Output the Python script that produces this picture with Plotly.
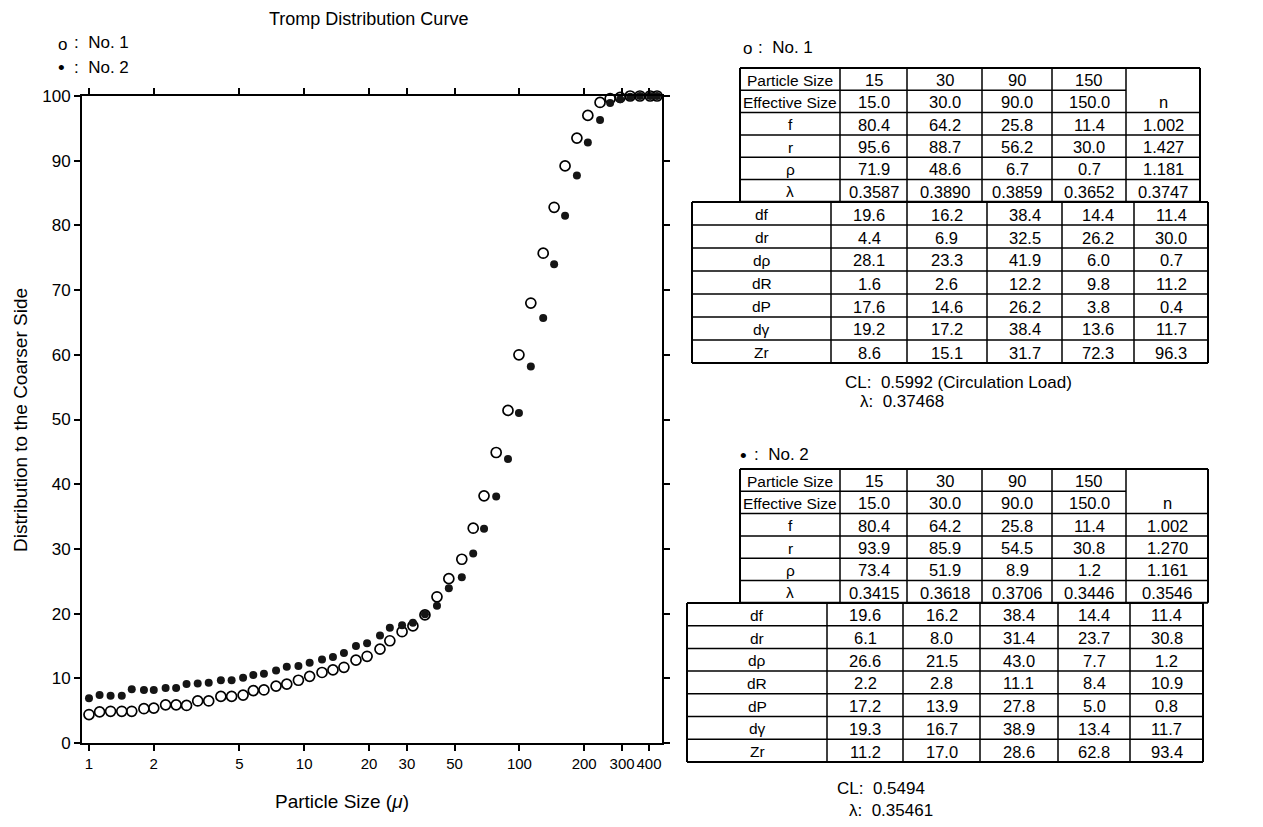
import plotly.graph_objects as go

PAGE_W, PAGE_H = 1263, 827
OFF = 8                      # default page margin around the figure
W, H = PAGE_W - 2 * OFF, PAGE_H - 2 * OFF
FONT = "Liberation Sans, Arial, Helvetica, sans-serif"

# ---------------- data ----------------
particle_size = [1.0, 1.12, 1.26, 1.42, 1.58, 1.8, 2.0, 2.27, 2.54, 2.84, 3.2, 3.6, 4.1, 4.6,
                 5.2, 5.8, 6.5, 7.4, 8.3, 9.4, 10.6, 12.1, 13.6, 15.3, 17.4, 19.6, 22.5, 25.0,
                 28.5, 32.0, 36.4, 41.4, 47.0, 54.0, 61.0, 68.5, 78.0, 88.5, 99.5, 113, 129,
                 145, 163, 185, 208, 237, 264, 294, 327, 363, 405, 436]
no1_dist = [4.4, 4.8, 4.9, 4.9, 4.9, 5.3, 5.4, 5.9, 5.9, 5.8, 6.5, 6.5, 7.2, 7.2, 7.4, 8.1,
            8.2, 8.8, 9.1, 9.7, 10.3, 10.9, 11.3, 11.7, 12.8, 13.4, 14.5, 15.8, 17.2, 18.1,
            19.8, 22.6, 25.4, 28.4, 33.2, 38.2, 44.9, 51.4, 60.0, 68.0, 75.7, 82.8, 89.2,
            93.5, 97.0, 99.0, 99.6, 99.8, 100, 100, 100, 100]
no2_dist = [6.9, 7.4, 7.3, 7.3, 8.3, 8.2, 8.2, 8.5, 8.5, 9.1, 9.2, 9.3, 9.7, 9.7, 10.1, 10.5,
            10.7, 11.2, 11.8, 11.9, 12.4, 12.9, 13.3, 13.9, 15.0, 15.4, 16.6, 17.8, 18.2, 18.6,
            19.9, 21.2, 23.9, 25.6, 29.3, 33.1, 38.1, 43.9, 51.0, 58.2, 65.7, 74.0, 81.5,
            87.7, 92.8, 96.3, 98.9, 99.5, 99.9, 100, 100, 100]

x_tick_vals = [1, 2, 5, 10, 20, 30, 50, 100, 200, 300, 400]
y_tick_vals = [0, 10, 20, 30, 40, 50, 60, 70, 80, 90, 100]

head_row = ["Particle Size", "15", "30", "90", "150", ""]
upper_labels = ["Effective Size", "f", "r", "ρ", "λ"]
lower_labels = ["df", "dr", "dρ", "dR", "dP", "dγ", "Zr"]

t1_upper = [["15.0", "30.0", "90.0", "150.0", "n"],
            ["80.4", "64.2", "25.8", "11.4", "1.002"],
            ["95.6", "88.7", "56.2", "30.0", "1.427"],
            ["71.9", "48.6", "6.7", "0.7", "1.181"],
            ["0.3587", "0.3890", "0.3859", "0.3652", "0.3747"]]
t1_lower = [["19.6", "16.2", "38.4", "14.4", "11.4"],
            ["4.4", "6.9", "32.5", "26.2", "30.0"],
            ["28.1", "23.3", "41.9", "6.0", "0.7"],
            ["1.6", "2.6", "12.2", "9.8", "11.2"],
            ["17.6", "14.6", "26.2", "3.8", "0.4"],
            ["19.2", "17.2", "38.4", "13.6", "11.7"],
            ["8.6", "15.1", "31.7", "72.3", "96.3"]]
t1_cl, t1_lam = "0.5992", "0.37468"

t2_upper = [["15.0", "30.0", "90.0", "150.0", "n"],
            ["80.4", "64.2", "25.8", "11.4", "1.002"],
            ["93.9", "85.9", "54.5", "30.8", "1.270"],
            ["73.4", "51.9", "8.9", "1.2", "1.161"],
            ["0.3415", "0.3618", "0.3706", "0.3446", "0.3546"]]
t2_lower = [["19.6", "16.2", "38.4", "14.4", "11.4"],
            ["6.1", "8.0", "31.4", "23.7", "30.8"],
            ["26.6", "21.5", "43.0", "7.7", "1.2"],
            ["2.2", "2.8", "11.1", "8.4", "10.9"],
            ["17.2", "13.9", "27.8", "5.0", "0.8"],
            ["19.3", "16.7", "38.9", "13.4", "11.7"],
            ["11.2", "17.0", "28.6", "62.8", "93.4"]]
t2_cl, t2_lam = "0.5494", "0.35461"


def px(x):
    return (x - OFF) / W


def py(y):
    return 1 - (y - OFF) / H


fig = go.Figure()

fig.add_trace(go.Scatter(
    x=particle_size, y=no1_dist, mode="markers", name="No. 1",
    marker=dict(symbol="circle-open", size=10, color="black", line=dict(width=1.7)),
    cliponaxis=False, showlegend=False))
fig.add_trace(go.Scatter(
    x=particle_size, y=no2_dist, mode="markers", name="No. 2",
    marker=dict(symbol="circle", size=8, color="#151515"),
    cliponaxis=False, showlegend=False))

ann = []
shapes = []


def text(x, y, s, size=17, xanchor="center", angle=0):
    ann.append(dict(x=px(x), y=py(y), xref="paper", yref="paper", text=s, showarrow=False,
                    xanchor=xanchor, yanchor="middle", textangle=angle,
                    font=dict(family=FONT, size=size, color="black")))


def seg(x0, y0, x1, y1, w=1.5):
    shapes.append(dict(type="line", xref="paper", yref="paper",
                       x0=px(x0), y0=py(y0), x1=px(x1), y1=py(y1),
                       line=dict(color="black", width=w)))


def draw_table(x_edges, y_top, row_h, rows, merged_n=False):
    n = len(rows)
    y_edges = [y_top + k * row_h for k in range(n + 1)]
    for k, y in enumerate(y_edges):
        x_end = x_edges[-2] if (merged_n and k == 1) else x_edges[-1]
        seg(x_edges[0], y, x_end, y, 2 if k in (0, n) else 1.5)
    for j, x in enumerate(x_edges):
        seg(x, y_edges[0], x, y_edges[-1], 2 if j in (0, len(x_edges) - 1) else 1.5)
    for r, row in enumerate(rows):
        for c, val in enumerate(row):
            if val == "":
                continue
            cx = (x_edges[c] + x_edges[c + 1]) / 2
            cy = (y_edges[r] + y_edges[r + 1]) / 2 + 1
            text(cx, cy, val, 15.5 if c == 0 else 16.5)


def table_rows(head, labels, body):
    return [head] + [[lab] + vals for lab, vals in zip(labels, body)]


up1_x = [740, 840, 907, 982, 1052, 1126, 1200]
lo1_x = [692, 831, 907, 987, 1062, 1134, 1208]
up2_x = [740, 840, 907, 982, 1052, 1126, 1208]
lo2_x = [687, 827, 903, 980, 1058, 1130, 1203]

# table No. 1
draw_table(up1_x, 68, 22.3, table_rows(head_row, upper_labels, t1_upper), merged_n=True)
draw_table(lo1_x, 202, 23.0, [[lab] + vals for lab, vals in zip(lower_labels, t1_lower)])
# table No. 2
draw_table(up2_x, 469, 22.3, table_rows(head_row, upper_labels, t2_upper), merged_n=True)
draw_table(lo2_x, 603, 22.7, [[lab] + vals for lab, vals in zip(lower_labels, t2_lower)])

# texts
text(368, 19, "Tromp Distribution Curve", size=18)
text(20, 420, "Distribution to the Coarser Side", size=19, angle=-90)
text(342, 801, "Particle Size (<i>μ</i>)", size=19)
text(56, 44, "o", size=17, xanchor="left")
text(72, 43, ":  No. 1", size=17, xanchor="left")
text(56, 68, "•", size=19, xanchor="left")
text(72, 67, ":  No. 2", size=17, xanchor="left")
text(741, 49, "o", size=17, xanchor="left")
text(756, 48, ":  No. 1", size=17, xanchor="left")
text(738, 455, "•", size=19, xanchor="left")
text(752, 454, ":  No. 2", size=17, xanchor="left")
text(843, 382, "CL:  " + t1_cl + " (Circulation Load)", size=17, xanchor="left")
text(858, 401, "λ:  " + t1_lam, size=17, xanchor="left")
text(835, 788, "CL:  " + t2_cl, size=17, xanchor="left")
text(847, 810, "λ:  " + t2_lam, size=17, xanchor="left")

axis_common = dict(showline=True, linecolor="black", linewidth=2, mirror="ticks",
                   ticks="outside", ticklen=6, tickwidth=1.5, tickcolor="black",
                   showgrid=False, zeroline=False, tickangle=0)

fig.update_layout(
    width=W, height=H, margin=dict(l=0, r=0, t=0, b=0, autoexpand=False),
    paper_bgcolor="white", plot_bgcolor="white",
    xaxis=dict(type="log", range=[-0.0325, 2.6626], domain=[px(82), px(662)],
               tickvals=x_tick_vals, ticktext=[str(v) for v in x_tick_vals],
               tickfont=dict(family=FONT, size=15, color="black"), **axis_common),
    yaxis=dict(range=[0, 100], domain=[py(743), py(96)], tickvals=y_tick_vals,
               tickfont=dict(family=FONT, size=17, color="black"), **axis_common),
    showlegend=False,
    annotations=ann,
    shapes=shapes,
)

fig.write_html("out.html")
